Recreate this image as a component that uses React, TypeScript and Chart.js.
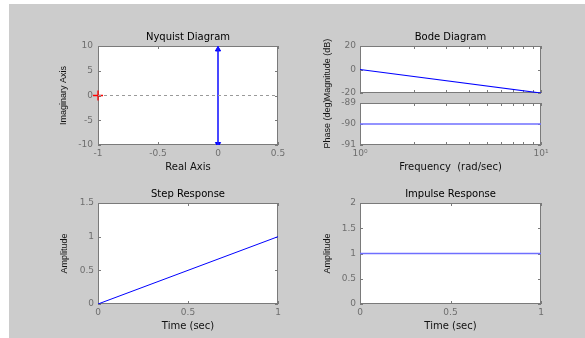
import React, { useEffect, useRef } from 'react';
import { Chart, registerables } from 'chart.js';
Chart.register(...registerables);

// ---------------- data ----------------
// Nyquist diagram of G(s) = 1/s
const nyqReal = [0, 0];
const nyqImag = [-10, 10];
const nyqArrowReal = [0, 0];
const nyqArrowImag = [9.3, -9.8];
const nyqArrowRot = [0, 180];
const nyqZeroReal = [-1, 0.5];
const nyqZeroImag = [0, 0];
const critReal = [-1];
const critImag = [0];
const nyqXTicks = [-1, -0.5, 0, 0.5];
const nyqYTicks = [-10, -5, 0, 5, 10];

// Bode diagram
const bodeFreq = [1, 10];
const bodeMag = [0, -20];
const bodePhase = [-90, -90];
const bodeFreqTicks = [1, 2, 3, 4, 5, 6, 7, 8, 9, 10];
const bodeFreqLabels: Record<number, string> = { 1: '10⁰', 10: '10¹' };
const bodeMagTicks = [-20, 0, 20];
const bodePhaseTicks = [-91, -90, -89];

// Step response
const stepTime = [0, 1];
const stepAmp = [0, 1];
const stepYTicks = [0, 0.5, 1, 1.5];

// Impulse response
const impTime = [0, 1];
const impAmp = [1, 1];
const impYTicks = [0, 0.5, 1, 1.5, 2];

const timeTicks = [0, 0.5, 1];

// ---------------- layout / style ----------------
const W = 585;
const H = 338;
const Y_AXIS_W = 40;
const X_AXIS_H = 20;
const TICK_FONT = { family: '"DejaVu Sans", sans-serif', size: 9 };
const TICK_COLOR = '#6e6e6e';
const LINE_BLUE = '#0000ff';
const LIGHT_BLUE = '#6f6fff';

type Area = { l: number; t: number; r: number; b: number };

const pts = (xs: number[], ys: number[]) => xs.map((x, i) => ({ x, y: ys[i] }));
const fixedTicks = (values: number[]) => (scale: any) => {
  scale.ticks = values.map((v) => ({ value: v }));
};
const numLabel = (v: any) => String(Number(v));

function xAxis(type: string, ticksArr: number[], min: number, max: number, showLabels: boolean, callback: any = numLabel) {
  return {
    type,
    position: 'bottom',
    min,
    max,
    afterBuildTicks: fixedTicks(ticksArr),
    afterFit: (s: any) => {
      s.height = showLabels ? X_AXIS_H : 0;
    },
    grid: { display: false, drawTicks: false },
    border: { display: false },
    ticks: {
      display: showLabels,
      font: TICK_FONT,
      color: TICK_COLOR,
      padding: 3,
      maxRotation: 0,
      minRotation: 0,
      autoSkip: false,
      callback,
    },
  };
}

function yAxis(ticksArr: number[], min: number, max: number, pad: number) {
  return {
    type: 'linear',
    position: 'left',
    min,
    max,
    afterBuildTicks: fixedTicks(ticksArr),
    afterFit: (s: any) => {
      s.width = Y_AXIS_W;
    },
    grid: { display: false, drawTicks: false },
    border: { display: false },
    ticks: { font: TICK_FONT, color: TICK_COLOR, padding: pad, autoSkip: false, callback: numLabel },
  };
}

const panelPlugin = {
  id: 'matlabPanel',
  beforeDraw(chart: any) {
    const { ctx, chartArea: a } = chart;
    ctx.save();
    ctx.fillStyle = '#ffffff';
    ctx.fillRect(a.left, a.top, a.right - a.left, a.bottom - a.top);
    ctx.restore();
  },
  beforeDatasetsDraw(chart: any) {
    const { ctx, chartArea: a, scales } = chart;
    ctx.save();
    ctx.strokeStyle = '#7a7a7a';
    ctx.lineWidth = 1;
    ctx.strokeRect(a.left + 0.5, a.top + 0.5, a.right - a.left - 1, a.bottom - a.top - 1);
    const TL = 3;
    ctx.beginPath();
    for (const t of scales.x.ticks) {
      const px = Math.round(scales.x.getPixelForValue(t.value)) + 0.5;
      ctx.moveTo(px, a.bottom);
      ctx.lineTo(px, a.bottom - TL);
      ctx.moveTo(px, a.top);
      ctx.lineTo(px, a.top + TL);
    }
    for (const t of scales.y.ticks) {
      const py = Math.round(scales.y.getPixelForValue(t.value)) + 0.5;
      ctx.moveTo(a.left, py);
      ctx.lineTo(a.left + TL, py);
      ctx.moveTo(a.right, py);
      ctx.lineTo(a.right - TL, py);
    }
    ctx.stroke();
    ctx.restore();
  },
  afterDraw(chart: any, _args: any, o: any) {
    const { ctx, chartArea: a } = chart;
    const cx = (a.left + a.right) / 2;
    const cy = (a.top + a.bottom) / 2;
    ctx.save();
    ctx.textAlign = 'center';
    ctx.textBaseline = 'middle';
    if (o.title) {
      ctx.fillStyle = '#000000';
      ctx.font = '10px "DejaVu Sans", sans-serif';
      ctx.fillText(o.title, cx, a.top - 9);
    }
    if (o.xLabel) {
      ctx.fillStyle = '#111111';
      ctx.font = '10px "DejaVu Sans", sans-serif';
      ctx.fillText(o.xLabel, cx, a.bottom + 22);
    }
    if (o.yLabel) {
      ctx.fillStyle = '#111111';
      ctx.font = '9px "Liberation Sans", Arial, sans-serif';
      ctx.translate(a.left - o.yLabelOffset, cy);
      ctx.rotate(-Math.PI / 2);
      ctx.fillText(o.yLabel, 0, 0);
    }
    ctx.restore();
  },
};

function baseConfig(area: Area, xh: number, datasets: any[], scales: any, panel: any) {
  return {
    type: 'scatter',
    data: { datasets },
    plugins: [panelPlugin],
    options: {
      responsive: false,
      devicePixelRatio: 1,
      animation: false,
      events: [],
      layout: {
        padding: { left: area.l - Y_AXIS_W, top: area.t, right: W - area.r, bottom: H - area.b - xh },
      },
      scales,
      plugins: {
        legend: { display: false },
        tooltip: { enabled: false },
        title: { display: false },
        matlabPanel: panel,
      },
    },
  };
}

const lineDs = (data: any[], color: string, width: number, extra: any = {}) => ({
  data,
  showLine: true,
  borderColor: color,
  borderWidth: width,
  pointRadius: 0,
  fill: false,
  ...extra,
});

function buildConfigs() {
  const nyqArea: Area = { l: 98, t: 46, r: 278, b: 145 };
  const magArea: Area = { l: 360, t: 46, r: 541, b: 93 };
  const phaseArea: Area = { l: 360, t: 103, r: 541, b: 145 };
  const stepArea: Area = { l: 98, t: 203, r: 278, b: 304 };
  const impArea: Area = { l: 360, t: 203, r: 541, b: 304 };

  const nyquist = baseConfig(
    nyqArea,
    X_AXIS_H,
    [
      lineDs(pts(nyqZeroReal, nyqZeroImag), '#9a9a9a', 1, { borderDash: [3, 3] }),
      lineDs(pts(nyqReal, nyqImag), '#1a1aff', 1.6),
      {
        data: pts(nyqArrowReal, nyqArrowImag),
        showLine: false,
        pointStyle: 'triangle',
        pointRotation: nyqArrowRot,
        pointRadius: 3,
        backgroundColor: LINE_BLUE,
        borderColor: LINE_BLUE,
        borderWidth: 1,
      },
      {
        data: pts(critReal, critImag),
        showLine: false,
        pointStyle: 'cross',
        pointRadius: 5,
        borderColor: '#ff0000',
        borderWidth: 1.3,
        clip: false,
      },
    ],
    {
      x: xAxis('linear', nyqXTicks, -1, 0.5, true),
      y: yAxis(nyqYTicks, -10, 10, 5),
    },
    { title: 'Nyquist Diagram', xLabel: 'Real Axis', yLabel: 'Imaginary Axis', yLabelOffset: 34 }
  );

  const logLabel = (v: any) => bodeFreqLabels[Number(v)] ?? '';

  const mag = baseConfig(
    magArea,
    0,
    [lineDs(pts(bodeFreq, bodeMag), LINE_BLUE, 1.2)],
    {
      x: xAxis('logarithmic', bodeFreqTicks, 1, 10, false, logLabel),
      y: yAxis(bodeMagTicks, -20, 20, 4),
    },
    { title: 'Bode Diagram', yLabel: 'Magnitude (dB)', yLabelOffset: 32 }
  );

  const phase = baseConfig(
    phaseArea,
    X_AXIS_H,
    [lineDs(pts(bodeFreq, bodePhase), LIGHT_BLUE, 1.6)],
    {
      x: xAxis('logarithmic', bodeFreqTicks, 1, 10, true, logLabel),
      y: yAxis(bodePhaseTicks, -91, -89, 4),
    },
    { xLabel: 'Frequency  (rad/sec)', yLabel: 'Phase (deg)', yLabelOffset: 32 }
  );

  const step = baseConfig(
    stepArea,
    X_AXIS_H,
    [lineDs(pts(stepTime, stepAmp), LINE_BLUE, 1)],
    {
      x: xAxis('linear', timeTicks, 0, 1, true),
      y: yAxis(stepYTicks, 0, 1.5, 4),
    },
    { title: 'Step Response', xLabel: 'Time (sec)', yLabel: 'Amplitude', yLabelOffset: 33 }
  );

  const impulse = baseConfig(
    impArea,
    X_AXIS_H,
    [lineDs(pts(impTime, impAmp), LIGHT_BLUE, 1.6)],
    {
      x: xAxis('linear', timeTicks, 0, 1, true),
      y: yAxis(impYTicks, 0, 2, 4),
    },
    { title: 'Impulse Response', xLabel: 'Time (sec)', yLabel: 'Amplitude', yLabelOffset: 32 }
  );

  return [nyquist, mag, phase, step, impulse];
}

export default function App() {
  const refs = [
    useRef<HTMLCanvasElement>(null),
    useRef<HTMLCanvasElement>(null),
    useRef<HTMLCanvasElement>(null),
    useRef<HTMLCanvasElement>(null),
    useRef<HTMLCanvasElement>(null),
  ];

  useEffect(() => {
    const configs = buildConfigs();
    const charts = configs.map((cfg, i) => new Chart(refs[i].current as HTMLCanvasElement, cfg as any));
    return () => charts.forEach((c) => c.destroy());
  }, []);

  return (
    <div style={{ position: 'absolute', left: 0, top: 0, width: W, height: H, background: '#ffffff', overflow: 'hidden' }}>
      <div style={{ position: 'absolute', left: 9, top: 4, width: W - 9, height: H - 4, background: '#cccccc' }} />
      {refs.map((r, i) => (
        <canvas
          key={i}
          ref={r}
          width={W}
          height={H}
          style={{ position: 'absolute', left: 0, top: 0, width: W, height: H }}
        />
      ))}
    </div>
  );
}
